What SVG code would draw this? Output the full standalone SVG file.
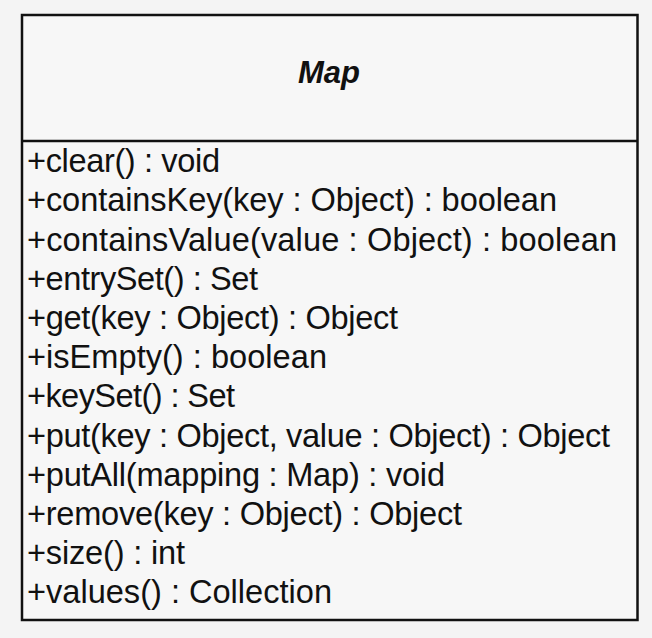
<svg xmlns="http://www.w3.org/2000/svg" width="652" height="638" viewBox="0 0 652 638">
<style>
.box{fill:#f7f7f7;stroke:#111;stroke-width:2.5}
.sep{stroke:#111;stroke-width:2.5}
.title{font-family:"Liberation Sans",Arial,sans-serif;font-size:31px;font-weight:bold;font-style:italic;fill:#111;text-anchor:middle}
.m{font-family:"Liberation Sans",Arial,sans-serif;font-size:32.6px;fill:#111}
</style>
<rect x="0" y="0" width="652" height="638" fill="#f4f4f4"/>
<g id="Map">
<rect class="box" x="22" y="15" width="615.5" height="605"/>
<line class="sep" x1="22" y1="141" x2="637.5" y2="141"/>
<text class="title" x="329" y="83">Map</text>
<text class="m" x="27" y="172" textLength="193" lengthAdjust="spacing">+clear() : void</text>
<text class="m" x="27" y="211.4" textLength="530" lengthAdjust="spacing">+containsKey(key : Object) : boolean</text>
<text class="m" x="27" y="250.6" textLength="590" lengthAdjust="spacing">+containsValue(value : Object) : boolean</text>
<text class="m" x="27" y="289.8" textLength="231" lengthAdjust="spacing">+entrySet() : Set</text>
<text class="m" x="27" y="329" textLength="371" lengthAdjust="spacing">+get(key : Object) : Object</text>
<text class="m" x="27" y="368.2" textLength="300" lengthAdjust="spacing">+isEmpty() : boolean</text>
<text class="m" x="27" y="407.4" textLength="208" lengthAdjust="spacing">+keySet() : Set</text>
<text class="m" x="27" y="446.6" textLength="583" lengthAdjust="spacing">+put(key : Object, value : Object) : Object</text>
<text class="m" x="27" y="485.8" textLength="418" lengthAdjust="spacing">+putAll(mapping : Map) : void</text>
<text class="m" x="27" y="525" textLength="435" lengthAdjust="spacing">+remove(key : Object) : Object</text>
<text class="m" x="27" y="564.2" textLength="158" lengthAdjust="spacing">+size() : int</text>
<text class="m" x="27" y="603.4" textLength="305" lengthAdjust="spacing">+values() : Collection</text>
</g>
</svg>
